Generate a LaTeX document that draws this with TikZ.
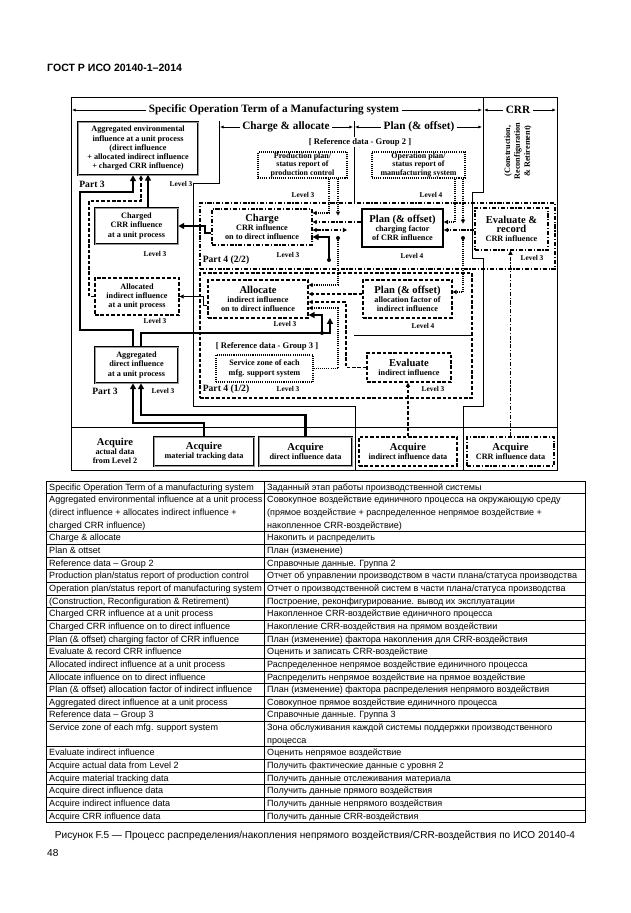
\documentclass[tikz,border=0pt]{standalone}
\usepackage{fontspec}
\setmainfont{Liberation Serif}
\newfontfamily\tabfont{Liberation Sans}
\usetikzlibrary{arrows.meta, calc}

\newcommand{\boxhead}[1]{{\fontsize{9}{9}\selectfont #1}}

\begin{document}
\begin{tikzpicture}[
    x=0.03cm, y=-0.03cm,
    font=\bfseries\fontsize{7}{7.9}\selectfont,
    sz/.style 2 args={minimum width=#1*0.03cm, minimum height=#2*0.03cm},
    cell/.style={inner sep=0pt, align=center},
    solidbox/.style={cell, draw, line width=0.45pt, double=black!40, double distance=0.7pt},
    heavybox/.style={cell, draw, line width=1.6pt},
    dashbox/.style={cell, draw, line width=1.1pt, dash pattern=on 3pt off 1.6pt},
    dotbox/.style={cell, draw, line width=1.1pt, dash pattern=on 0.9pt off 0.9pt},
    ddbox/.style={cell, draw, line width=1.1pt, dash pattern=on 3.5pt off 1.5pt on 1pt off 1.5pt},
    thk/.style={line width=2pt, -{Triangle[length=5pt,width=5pt]}},
    thn/.style={line width=0.6pt, -{Triangle[length=3.5pt,width=3.5pt]}},
    dsh/.style={line width=1.2pt, dash pattern=on 3pt off 1.6pt, -{Triangle[length=3.5pt,width=3.5pt]}},
    dtt/.style={line width=1.2pt, dash pattern=on 0.9pt off 0.9pt, -{Triangle[length=3.5pt,width=3.5pt]}},
    ddt/.style={line width=1.2pt, dash pattern=on 3.5pt off 1.5pt on 1pt off 1.5pt, -{Triangle[length=3.5pt,width=3.5pt]}},
    hdarrow/.style={line width=0.6pt, -{Latex[length=3pt,width=2.6pt]}},
    frameline/.style={line width=0.7pt},
    colline/.style={line width=0.8pt},
    headtxt/.style={font=\bfseries\fontsize{9.6}{10}\selectfont, inner sep=2pt},
    reftxt/.style={font=\bfseries\fontsize{7.3}{8}\selectfont, inner sep=0.5pt, fill=white},
    partlbl/.style={font=\bfseries\fontsize{8.2}{9}\selectfont, inner sep=0.5pt},
    lvl/.style={font=\bfseries\fontsize{6.3}{7}\selectfont, inner sep=0.5pt},
    tabline/.style={line width=0.5pt},
    tabtxt/.style={font=\tabfont\fontsize{7.7}{9}\selectfont, inner sep=0pt, anchor=base west}
]
\useasboundingbox (0,0) rectangle (630,913);

% --- page header ---
\node[font=\tabfont\bfseries\fontsize{9}{10}\selectfont, anchor=west, inner sep=0pt] (gost) at (47,68) {ГОСТ Р ИСО 20140-1–2014};

% --- frame and column borders ---
\draw[frameline] (71,97) rectangle (557,470);
\draw[colline] (219,121) -- (219,183) -- (193,183) -- (193,406) -- (355,406) -- (355,470);
\draw[colline] (354,121) -- (354,203);
\draw[colline] (354,335) -- (472,335);
\draw[colline] (483,97) -- (483,192) -- (472,192) -- (472,258) -- (483,258) -- (483,406) -- (463,406) -- (463,470);
\draw[frameline] (71,427) -- (557,427);

% --- column heads ---
\node[headtxt] (termhd) at (274,110) {Specific Operation Term of a Manufacturing system};
\draw[hdarrow] (termhd.west) -- (72,110);
\draw[hdarrow] (termhd.east) -- (482,110);
\node[headtxt] (crrhd) at (518,110) {CRR};
\draw[hdarrow] (crrhd.west) -- (484,110);
\draw[hdarrow] (crrhd.east) -- (556,110);
\node[headtxt] (chghd) at (286,127) {Charge \& allocate};
\draw[hdarrow] (chghd.west) -- (220,127);
\draw[hdarrow] (chghd.east) -- (353,127);
\node[headtxt] (planhd) at (419,127) {Plan (\& offset)};
\draw[hdarrow] (planhd.west) -- (355,127);
\draw[hdarrow] (planhd.east) -- (482,127);
\node[font=\bfseries\fontsize{7}{8.4}\selectfont, rotate=90, align=center] (crrnote) at (518,151) {(Construction,\\Reconfiguration\\\& Retirement)};

% --- Part 4 regions ---
\node[ddbox, sz={355}{66}] (part42) at (377.5,236) {};
\node[dashbox, sz={272}{125}] (part41) at (336,335.5) {};
\node[partlbl, anchor=west] (part42lbl) at (202,260) {Part 4 (2/2)};
\node[partlbl, anchor=west] (part41lbl) at (202,389) {Part 4 (1/2)};
\node[lvl] (part41lvl) at (288,389) {Level 3};

% --- unit process column ---
\node[solidbox, sz={120}{53}] (aggenv) at (138,148.5) {Aggregated environmental\\influence at a unit process\\(direct influence\\+ allocated indirect influence\\+ charged CRR influence)};
\node[partlbl] (aggenvpart) at (92,184) {Part 3};
\node[lvl] (aggenvlvl) at (181,184) {Level 3};
\node[solidbox, sz={83}{36}] (chgcrr) at (136.5,226) {Charged\\CRR influence\\at a unit process};
\node[lvl] (chgcrrlvl) at (155,254) {Level 3};
\node[dashbox, sz={84}{37}] (allocind) at (137,296.5) {Allocated\\indirect influence\\at a unit process};
\node[lvl] (allocindlvl) at (155,321) {Level 3};
\node[solidbox, sz={83}{36}] (aggdir) at (136.5,365) {Aggregated\\direct influence\\at a unit process};
\node[partlbl] (aggdirpart) at (105,391) {Part 3};
\node[lvl] (aggdirlvl) at (163,391) {Level 3};

% --- reference data group 2 ---
\node[reftxt] (refg2) at (360,142) {[ Reference data - Group 2 ]};
\node[dotbox, sz={89}{26}, font=\bfseries\fontsize{6.8}{7.3}\selectfont] (prodplan) at (302.5,165) {Production plan/\\status report of\\production control};
\node[lvl] (prodplanlvl) at (303,195) {Level 3};
\node[dotbox, sz={93}{26}, font=\bfseries\fontsize{6.8}{7.3}\selectfont] (operplan) at (418.5,165) {Operation plan/\\status report of\\manufacturing system};
\node[lvl] (operplanlvl) at (431,195) {Level 4};

% --- charge / plan / evaluate ---
\node[ddbox, sz={100}{36}] (charge) at (262,227) {\boxhead{Charge}\\CRR influence\\on to direct influence};
\node[lvl] (chargelvl) at (288,255) {Level 3};
\node[heavybox, sz={81}{38}] (planchg) at (402.5,228) {\boxhead{Plan (\& offset)}\\charging factor\\of CRR influence};
\node[lvl] (planchglvl) at (412,256) {Level 4};
\node[ddbox, sz={73}{42}] (evalrec) at (511.5,229) {\boxhead{Evaluate \&}\\\boxhead{record}\\CRR influence};
\node[lvl] (evalreclvl) at (532,258) {Level 3};

% --- allocate / plan / evaluate ---
\node[dashbox, sz={100}{38}] (allocate) at (258,299) {\boxhead{Allocate}\\indirect influence\\on to direct influence};
\node[lvl] (allocatelvl) at (285,324) {Level 3};
\node[dashbox, sz={89}{38}] (planalloc) at (407.5,299) {\boxhead{Plan (\& offset)}\\allocation factor of\\indirect influence};
\node[lvl] (planalloclvl) at (423,326) {Level 4};
\node[reftxt] (refg3) at (267,346) {[ Reference data - Group 3 ]};
\node[dotbox, sz={97}{27}] (service) at (264.5,368.5) {Service zone of each\\mfg. support system};
\node[dashbox, sz={84}{29}] (evalind) at (409,367.5) {\boxhead{Evaluate}\\indirect influence};
\node[lvl] (evalindlvl) at (433,389) {Level 3};

% --- acquire row ---
\node[align=center, inner sep=0pt] (acqact) at (115,451) {{\fontsize{9}{9}\selectfont Acquire}\\actual data\\from Level 2};
\node[solidbox, sz={100}{29}] (acqmat) at (204,451.5) {\boxhead{Acquire}\\material tracking data};
\node[solidbox, sz={93}{29}] (acqdir) at (305.5,451.5) {\boxhead{Acquire}\\direct influence data};
\node[dashbox, sz={98}{29}] (acqind) at (408,451.5) {\boxhead{Acquire}\\indirect influence data};
\node[ddbox, sz={87}{29}] (acqcrr) at (510.5,451.5) {\boxhead{Acquire}\\CRR influence data};

% --- junctions ---
\coordinate (jdir) at (322,333);
\coordinate (jchg) at (329,260);
\coordinate (jprod) at (338,238);
\coordinate (joper) at (463,238);
\foreach \j in {jdir, jchg, jprod, joper} \fill (\j) circle (2);

% --- direct influence (thick) ---
\draw[thk] (acqmat.north) -- ++(0,-14) -| ($(aggdir.south)+(-3.5,0)$);
\draw[thk] (acqdir.north) -- ++(0,-22) -| ($(aggdir.south)+(4.5,0)$);
\draw[thk] ($(aggdir.north)+(-3.5,0)$) -- ++(0,-17) -| (80,192) -| ($(aggenv.south)+(-5,0)$);
\draw[thk] ($(aggdir.north)+(4.5,0)$) |- (jdir) |- ($(allocate.east)+(0,16)$);
\draw[thk] (jdir) -- (330,333) -- (330,318);
\draw[thk] (jchg) |- ($(charge.east)+(0,10)$);
\draw[thk] ($(charge.west)+(0,6)$) -| (205,226) -- (chgcrr.east);
\draw[thk] ($(chgcrr.north)+(11.5,0)$) -- ++(0,-33);

% --- indirect influence ---
\draw[dsh] (allocind.west) -| (89,201) -| ($(aggenv.south)+(3,0)$);
\draw[thn] ($(allocate.west)+(0,6)$) -| (203,296.5) -- (allocind.east);
\draw[dsh] ($(planalloc.west)+(0,-5)$) -- ($(allocate.east)+(0,-5)$);
\draw[dsh] (evalind.west) -| (346,302) -- ($(allocate.east)+(0,3)$);
\draw[dtt] (service.east) -| (338,308) -- ($(allocate.east)+(0,9)$);
\draw[dsh] (acqind.north) -- (acqind.north |- evalind.south);

% --- reference data connectors ---
\draw[dtt] ($(prodplan.south)+(26.5,0)$) |- ($(charge.east)+(0,-14)$);
\draw[dtt] ($(prodplan.south)+(35.5,0)$) -- ++(0,37);
\draw[dtt] (jprod) |- ($(allocate.east)+(0,-14)$);
\draw[dtt] ($(operplan.south)+(36.5,0)$) |- ($(planchg.east)+(0,-6)$);
\draw[dtt] ($(operplan.south)+(44.5,0)$) -- ++(0,45);
\draw[dtt] (joper) |- ($(planalloc.east)+(0,-7)$);

% --- CRR influence ---
\draw[ddt] ($(planchg.west)+(0,-6)$) -- ($(charge.east)+(0,-5)$);
\draw[ddt, {Triangle[length=3.5pt,width=3.5pt]}-{Triangle[length=3.5pt,width=3.5pt]}] ($(charge.east)+(0,3)$) -- (347,230);
\draw[ddt] ($(evalrec.west)+(0,1)$) -- ($(planchg.east)+(0,2)$);
\draw[ddt] (acqcrr.north) -- (acqcrr.north |- evalrec.south);

% --- glossary table ---
\foreach \yb in {481,493.7,531.6,544.3,556.9,569.6,582.2,594.9,607.5,620.2,632.8,645.5,658.1,670.8,683.4,696.1,708.7,721.4,746.7,759.3,772,784.6,797.3,809.9,822.6}
    \draw[tabline] (46,\yb) -- (585,\yb);
\foreach \xb in {46,264,585}
    \draw[tabline] (\xb,481) -- (\xb,822.6);

\foreach \yy/\txt [count=\i] in {
    490.2/{Specific Operation Term of a manufacturing system},
    502.9/{Aggregated environmental influence at a unit process},
    515.5/{(direct influence + allocates indirect influence +},
    528.2/{charged CRR influence)},
    540.8/{Charge \& allocate},
    553.5/{Plan \& ottset},
    566.1/{Reference data – Group 2},
    578.8/{Production plan/status report of production control},
    591.4/{Operation plan/status report of manufacturing system},
    604.1/{(Construction, Reconfiguration \& Retirement)},
    616.7/{Charged CRR influence at a unit process},
    629.4/{Charged CRR influence on to direct influence},
    642.0/{Plan (\& offset) charging factor of CRR influence},
    654.7/{Evaluate \& record CRR influence},
    667.3/{Allocated indirect influence at a unit process},
    680.0/{Allocate influence on to direct influence},
    692.6/{Plan (\& offset) allocation factor of indirect influence},
    705.3/{Aggregated direct influence at a unit process},
    717.9/{Reference data – Group 3},
    730.6/{Service zone of each mfg. support system},
    755.9/{Evaluate indirect influence},
    768.5/{Acquire actual data from Level 2},
    781.2/{Acquire material tracking data},
    793.8/{Acquire direct influence data},
    806.5/{Acquire indirect influence data},
    819.1/{Acquire CRR influence data}}
    \node[tabtxt] (en\i) at (49,\yy) {\txt};

\foreach \yy/\txt [count=\i] in {
    490.2/{Заданный этап работы производственной системы},
    502.9/{Совокупное воздействие единичного процесса на окружающую среду},
    515.5/{(прямое воздействие + распределенное непрямое воздействие +},
    528.2/{накопленное CRR-воздействие)},
    540.8/{Накопить и распределить},
    553.5/{План (изменение)},
    566.1/{Справочные данные. Группа 2},
    578.8/{Отчет об управлении производством в части плана/статуса производства},
    591.4/{Отчет о производственной систем в части плана/статуса производства},
    604.1/{Построение, реконфигурирование. вывод их эксплуатации},
    616.7/{Накопленное CRR-воздействие единичного процесса},
    629.4/{Накопление CRR-воздействия на прямом воздействии},
    642.0/{План (изменение) фактора накопления для CRR-воздействия},
    654.7/{Оценить и записать CRR-воздействие},
    667.3/{Распределенное непрямое воздействие единичного процесса},
    680.0/{Распределить непрямое воздействие на прямое воздействие},
    692.6/{План (изменение) фактора распределения непрямого воздействия},
    705.3/{Совокупное прямое воздействие единичного процесса},
    717.9/{Справочные данные. Группа 3},
    730.6/{Зона обслуживания каждой системы поддержки производственного},
    743.2/{процесса},
    755.9/{Оценить непрямое воздействие},
    768.5/{Получить фактические данные с уровня 2},
    781.2/{Получить данные отслеживания материала},
    793.8/{Получить данные прямого воздействия},
    806.5/{Получить данные непрямого воздействия},
    819.1/{Получить данные CRR-воздействия}}
    \node[tabtxt] (ru\i) at (267,\yy) {\txt};

% --- caption and page number ---
\node[font=\tabfont\fontsize{8.6}{10}\selectfont, inner sep=0pt] (caption) at (315,836) {Рисунок F.5 — Процесс распределения/накопления непрямого воздействия/CRR-воздействия по ИСО 20140-4};
\node[font=\tabfont\fontsize{8.6}{10}\selectfont, anchor=west, inner sep=0pt] (pagenum) at (47,853) {48};
\end{tikzpicture}
\end{document}
